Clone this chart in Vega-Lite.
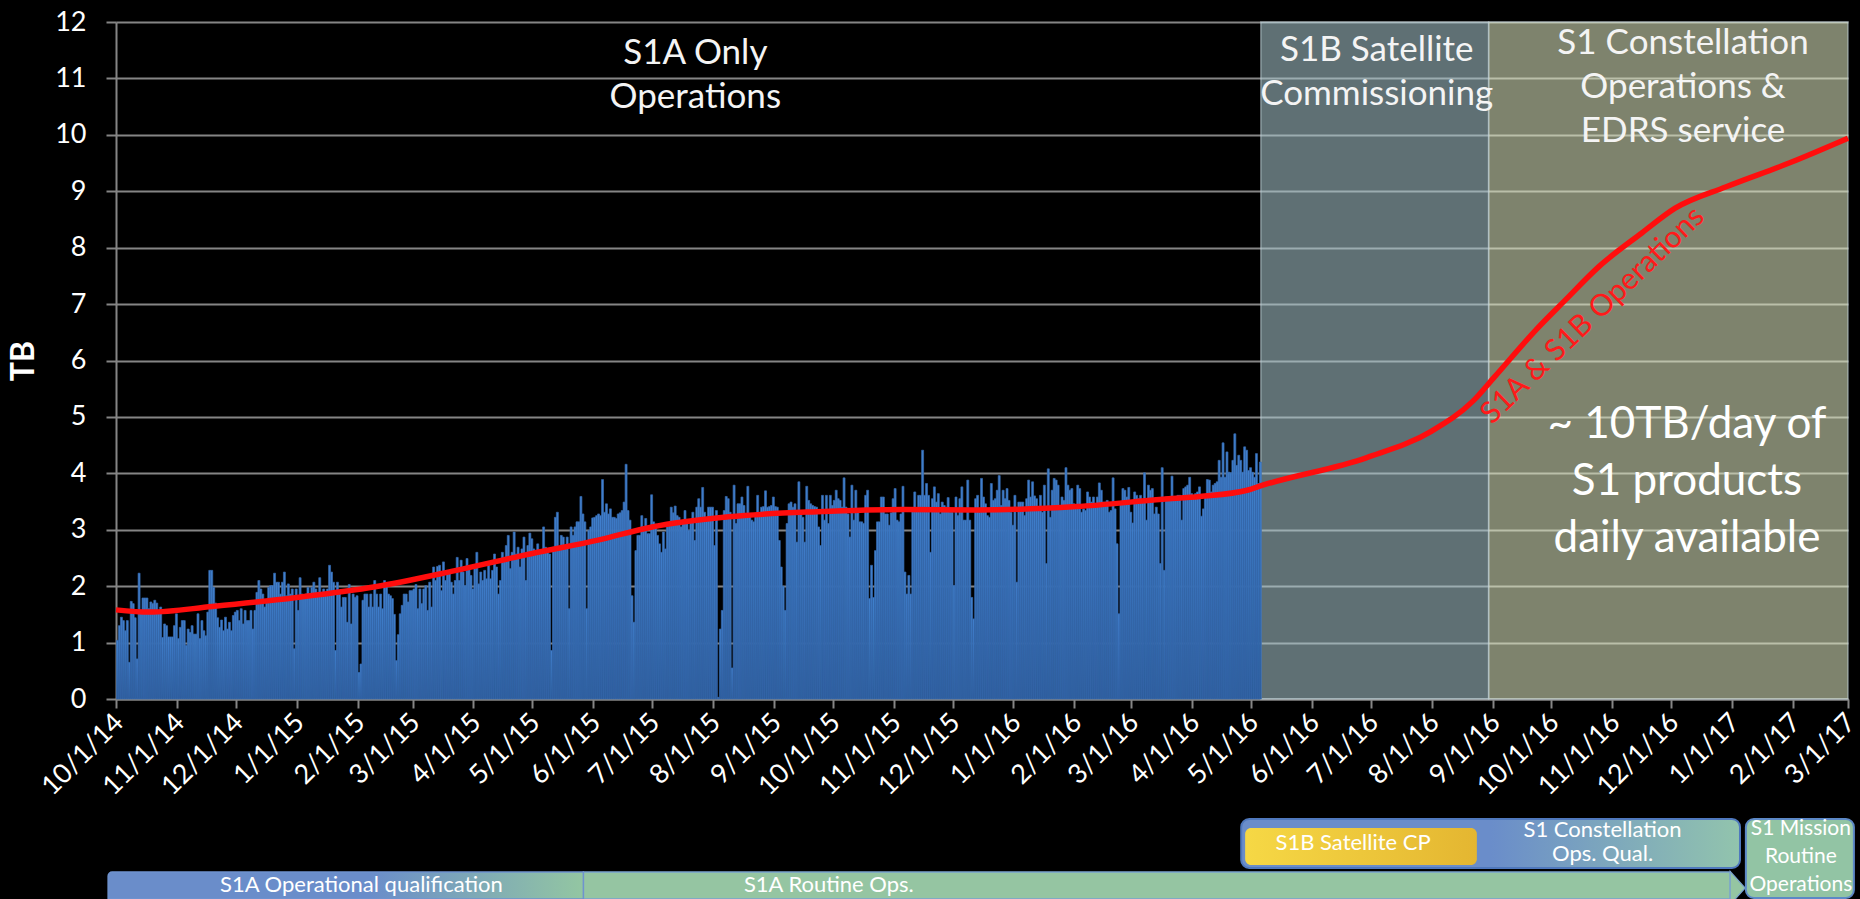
{
"$schema":"https://vega.github.io/schema/vega-lite/v6.json",
"background":"#000000",
"padding":{"left":7,"top":8,"right":0,"bottom":0},
"spacing":18,
"config":{"view":{"stroke":null},"font":"Lato"},
"datasets":{
"daily":[
{"d":"2014-10-01","v":1.04},{"d":"2014-10-02","v":1.3},{"d":"2014-10-03","v":1.45},{"d":"2014-10-04","v":1.39},{"d":"2014-10-05","v":1.21},{"d":"2014-10-06","v":1.39},{"d":"2014-10-07","v":0.65},{"d":"2014-10-08","v":1.73},{"d":"2014-10-09","v":1.69},{"d":"2014-10-10","v":1.44},{"d":"2014-10-11","v":0.71},{"d":"2014-10-12","v":2.23},{"d":"2014-10-13","v":1.51},{"d":"2014-10-14","v":1.79},{"d":"2014-10-15","v":1.79},{"d":"2014-10-16","v":1.79},{"d":"2014-10-17","v":1.6},{"d":"2014-10-18","v":1.72},{"d":"2014-10-19","v":1.69},{"d":"2014-10-20","v":1.75},{"d":"2014-10-21","v":1.7},{"d":"2014-10-22","v":1.51},{"d":"2014-10-23","v":1.63},{"d":"2014-10-24","v":1.09},{"d":"2014-10-25","v":1.33},{"d":"2014-10-26","v":1.3},{"d":"2014-10-27","v":1.1},{"d":"2014-10-28","v":1.1},{"d":"2014-10-29","v":1.1},{"d":"2014-10-30","v":1.3},{"d":"2014-10-31","v":1.51},
{"d":"2014-11-01","v":1.07},{"d":"2014-11-02","v":1.27},{"d":"2014-11-03","v":1.39},{"d":"2014-11-04","v":1.39},{"d":"2014-11-05","v":0.95},{"d":"2014-11-06","v":1.24},{"d":"2014-11-07","v":1.18},{"d":"2014-11-08","v":1.3},{"d":"2014-11-09","v":1.15},{"d":"2014-11-10","v":1.15},{"d":"2014-11-11","v":1.51},{"d":"2014-11-12","v":1.07},{"d":"2014-11-13","v":1.39},{"d":"2014-11-14","v":1.21},{"d":"2014-11-15","v":1.12},{"d":"2014-11-16","v":1.54},{"d":"2014-11-17","v":2.28},{"d":"2014-11-18","v":2.28},{"d":"2014-11-19","v":1.98},{"d":"2014-11-20","v":1.7},{"d":"2014-11-21","v":1.44},{"d":"2014-11-22","v":1.27},{"d":"2014-11-23","v":1.4},{"d":"2014-11-24","v":1.21},{"d":"2014-11-25","v":1.45},{"d":"2014-11-26","v":1.24},{"d":"2014-11-27","v":1.36},{"d":"2014-11-28","v":1.21},{"d":"2014-11-29","v":1.48},{"d":"2014-11-30","v":1.54},
{"d":"2014-12-01","v":1.57},{"d":"2014-12-02","v":1.39},{"d":"2014-12-03","v":1.6},{"d":"2014-12-04","v":1.33},{"d":"2014-12-05","v":1.57},{"d":"2014-12-06","v":1.39},{"d":"2014-12-07","v":1.39},{"d":"2014-12-08","v":1.57},{"d":"2014-12-09","v":1.24},{"d":"2014-12-10","v":1.57},{"d":"2014-12-11","v":1.89},{"d":"2014-12-12","v":2.1},{"d":"2014-12-13","v":1.95},{"d":"2014-12-14","v":1.86},{"d":"2014-12-15","v":1.63},{"d":"2014-12-16","v":1.75},{"d":"2014-12-17","v":1.98},{"d":"2014-12-18","v":2.01},{"d":"2014-12-19","v":2.01},{"d":"2014-12-20","v":2.23},{"d":"2014-12-21","v":2.07},{"d":"2014-12-22","v":2.07},{"d":"2014-12-23","v":1.86},{"d":"2014-12-24","v":2.07},{"d":"2014-12-25","v":2.25},{"d":"2014-12-26","v":1.83},{"d":"2014-12-27","v":2.04},{"d":"2014-12-28","v":1.86},{"d":"2014-12-29","v":1.95},{"d":"2014-12-30","v":0.89},{"d":"2014-12-31","v":1.95},
{"d":"2015-01-01","v":1.57},{"d":"2015-01-02","v":2.15},{"d":"2015-01-03","v":1.86},{"d":"2015-01-04","v":1.78},{"d":"2015-01-05","v":1.86},{"d":"2015-01-06","v":1.98},{"d":"2015-01-07","v":1.86},{"d":"2015-01-08","v":1.98},{"d":"2015-01-09","v":2.07},{"d":"2015-01-10","v":1.95},{"d":"2015-01-11","v":1.86},{"d":"2015-01-12","v":2.15},{"d":"2015-01-13","v":1.86},{"d":"2015-01-14","v":1.95},{"d":"2015-01-15","v":1.86},{"d":"2015-01-16","v":1.95},{"d":"2015-01-17","v":2.37},{"d":"2015-01-18","v":2.25},{"d":"2015-01-19","v":2.07},{"d":"2015-01-20","v":0.86},{"d":"2015-01-21","v":2.07},{"d":"2015-01-22","v":1.86},{"d":"2015-01-23","v":1.63},{"d":"2015-01-24","v":1.8},{"d":"2015-01-25","v":1.8},{"d":"2015-01-26","v":1.36},{"d":"2015-01-27","v":2.03},{"d":"2015-01-28","v":1.33},{"d":"2015-01-29","v":1.86},{"d":"2015-01-30","v":1.8},{"d":"2015-01-31","v":1.83},
{"d":"2015-02-01","v":0.47},{"d":"2015-02-02","v":0.62},{"d":"2015-02-03","v":1.75},{"d":"2015-02-04","v":1.86},{"d":"2015-02-05","v":1.86},{"d":"2015-02-06","v":1.63},{"d":"2015-02-07","v":1.86},{"d":"2015-02-08","v":1.63},{"d":"2015-02-09","v":2.1},{"d":"2015-02-10","v":1.86},{"d":"2015-02-11","v":1.63},{"d":"2015-02-12","v":1.86},{"d":"2015-02-13","v":1.6},{"d":"2015-02-14","v":2.1},{"d":"2015-02-15","v":2.04},{"d":"2015-02-16","v":1.86},{"d":"2015-02-17","v":1.83},{"d":"2015-02-18","v":1.78},{"d":"2015-02-19","v":1.5},{"d":"2015-02-20","v":0.68},{"d":"2015-02-21","v":1.14},{"d":"2015-02-22","v":1.51},{"d":"2015-02-23","v":1.66},{"d":"2015-02-24","v":1.86},{"d":"2015-02-25","v":1.86},{"d":"2015-02-26","v":1.72},{"d":"2015-02-27","v":1.92},{"d":"2015-02-28","v":1.92},
{"d":"2015-03-01","v":1.95},{"d":"2015-03-02","v":2.03},{"d":"2015-03-03","v":1.6},{"d":"2015-03-04","v":1.95},{"d":"2015-03-05","v":1.69},{"d":"2015-03-06","v":1.95},{"d":"2015-03-07","v":2.01},{"d":"2015-03-08","v":1.57},{"d":"2015-03-09","v":2.07},{"d":"2015-03-10","v":1.63},{"d":"2015-03-11","v":2.34},{"d":"2015-03-12","v":2.1},{"d":"2015-03-13","v":2.35},{"d":"2015-03-14","v":2.37},{"d":"2015-03-15","v":1.92},{"d":"2015-03-16","v":2.43},{"d":"2015-03-17","v":2.1},{"d":"2015-03-18","v":2.28},{"d":"2015-03-19","v":2.25},{"d":"2015-03-20","v":2.07},{"d":"2015-03-21","v":1.86},{"d":"2015-03-22","v":2.1},{"d":"2015-03-23","v":2.51},{"d":"2015-03-24","v":2.1},{"d":"2015-03-25","v":2.46},{"d":"2015-03-26","v":2.25},{"d":"2015-03-27","v":2.01},{"d":"2015-03-28","v":2.49},{"d":"2015-03-29","v":2.31},{"d":"2015-03-30","v":2.19},{"d":"2015-03-31","v":1.95},
{"d":"2015-04-01","v":2.34},{"d":"2015-04-02","v":2.6},{"d":"2015-04-03","v":2.04},{"d":"2015-04-04","v":2.25},{"d":"2015-04-05","v":2.1},{"d":"2015-04-06","v":2.28},{"d":"2015-04-07","v":2.13},{"d":"2015-04-08","v":2.43},{"d":"2015-04-09","v":2.13},{"d":"2015-04-10","v":2.28},{"d":"2015-04-11","v":2.57},{"d":"2015-04-12","v":2.34},{"d":"2015-04-13","v":1.86},{"d":"2015-04-14","v":2.1},{"d":"2015-04-15","v":2.6},{"d":"2015-04-16","v":2.51},{"d":"2015-04-17","v":2.72},{"d":"2015-04-18","v":2.9},{"d":"2015-04-19","v":2.31},{"d":"2015-04-20","v":2.6},{"d":"2015-04-21","v":2.96},{"d":"2015-04-22","v":2.57},{"d":"2015-04-23","v":2.69},{"d":"2015-04-24","v":2.34},{"d":"2015-04-25","v":2.66},{"d":"2015-04-26","v":2.87},{"d":"2015-04-27","v":2.1},{"d":"2015-04-28","v":2.72},{"d":"2015-04-29","v":2.94},{"d":"2015-04-30","v":2.84},
{"d":"2015-05-01","v":2.66},{"d":"2015-05-02","v":2.57},{"d":"2015-05-03","v":2.75},{"d":"2015-05-04","v":2.6},{"d":"2015-05-05","v":2.6},{"d":"2015-05-06","v":3.05},{"d":"2015-05-07","v":2.69},{"d":"2015-05-08","v":2.66},{"d":"2015-05-09","v":2.57},{"d":"2015-05-10","v":0.86},{"d":"2015-05-11","v":2.69},{"d":"2015-05-12","v":3.22},{"d":"2015-05-13","v":3.31},{"d":"2015-05-14","v":2.66},{"d":"2015-05-15","v":2.9},{"d":"2015-05-16","v":2.87},{"d":"2015-05-17","v":2.69},{"d":"2015-05-18","v":2.87},{"d":"2015-05-19","v":1.6},{"d":"2015-05-20","v":3.05},{"d":"2015-05-21","v":2.9},{"d":"2015-05-22","v":3.05},{"d":"2015-05-23","v":3.14},{"d":"2015-05-24","v":3.14},{"d":"2015-05-25","v":3.59},{"d":"2015-05-26","v":3.28},{"d":"2015-05-27","v":3.14},{"d":"2015-05-28","v":1.6},{"d":"2015-05-29","v":2.99},{"d":"2015-05-30","v":3.05},{"d":"2015-05-31","v":3.21},
{"d":"2015-06-01","v":3.22},{"d":"2015-06-02","v":3.25},{"d":"2015-06-03","v":3.28},{"d":"2015-06-04","v":3.25},{"d":"2015-06-05","v":3.89},{"d":"2015-06-06","v":3.31},{"d":"2015-06-07","v":3.46},{"d":"2015-06-08","v":3.28},{"d":"2015-06-09","v":3.37},{"d":"2015-06-10","v":3.22},{"d":"2015-06-11","v":3.22},{"d":"2015-06-12","v":3.2},{"d":"2015-06-13","v":3.28},{"d":"2015-06-14","v":3.3},{"d":"2015-06-15","v":3.34},{"d":"2015-06-16","v":3.49},{"d":"2015-06-17","v":4.16},{"d":"2015-06-18","v":3.34},{"d":"2015-06-19","v":3.17},{"d":"2015-06-20","v":1.83},{"d":"2015-06-21","v":1.36},{"d":"2015-06-22","v":2.63},{"d":"2015-06-23","v":2.9},{"d":"2015-06-24","v":2.9},{"d":"2015-06-25","v":3.25},{"d":"2015-06-26","v":3.05},{"d":"2015-06-27","v":3.2},{"d":"2015-06-28","v":2.93},{"d":"2015-06-29","v":2.93},{"d":"2015-06-30","v":3.62},
{"d":"2015-07-01","v":3.14},{"d":"2015-07-02","v":3.1},{"d":"2015-07-03","v":2.9},{"d":"2015-07-04","v":2.75},{"d":"2015-07-05","v":2.6},{"d":"2015-07-06","v":2.96},{"d":"2015-07-07","v":2.66},{"d":"2015-07-08","v":3.05},{"d":"2015-07-09","v":3.08},{"d":"2015-07-10","v":3.4},{"d":"2015-07-11","v":3.3},{"d":"2015-07-12","v":3.42},{"d":"2015-07-13","v":3.25},{"d":"2015-07-14","v":3.22},{"d":"2015-07-15","v":3.05},{"d":"2015-07-16","v":3.17},{"d":"2015-07-17","v":3.34},{"d":"2015-07-18","v":3.11},{"d":"2015-07-19","v":2.99},{"d":"2015-07-20","v":3.17},{"d":"2015-07-21","v":3.31},{"d":"2015-07-22","v":2.81},{"d":"2015-07-23","v":3.4},{"d":"2015-07-24","v":3.55},{"d":"2015-07-25","v":3.4},{"d":"2015-07-26","v":3.75},{"d":"2015-07-27","v":3.31},{"d":"2015-07-28","v":3.22},{"d":"2015-07-29","v":3.4},{"d":"2015-07-30","v":3.4},{"d":"2015-07-31","v":3.4},
{"d":"2015-08-01","v":2.72},{"d":"2015-08-02","v":3.34},{"d":"2015-08-03","v":0.03},{"d":"2015-08-04","v":1.24},{"d":"2015-08-05","v":1.57},{"d":"2015-08-06","v":3.34},{"d":"2015-08-07","v":3.59},{"d":"2015-08-08","v":3.55},{"d":"2015-08-09","v":3.31},{"d":"2015-08-10","v":0.55},{"d":"2015-08-11","v":3.79},{"d":"2015-08-12","v":3.11},{"d":"2015-08-13","v":3.46},{"d":"2015-08-14","v":3.46},{"d":"2015-08-15","v":3.58},{"d":"2015-08-16","v":3.43},{"d":"2015-08-17","v":3.28},{"d":"2015-08-18","v":3.77},{"d":"2015-08-19","v":3.28},{"d":"2015-08-20","v":3.17},{"d":"2015-08-21","v":3.14},{"d":"2015-08-22","v":3.25},{"d":"2015-08-23","v":3.61},{"d":"2015-08-24","v":3.3},{"d":"2015-08-25","v":3.4},{"d":"2015-08-26","v":3.41},{"d":"2015-08-27","v":3.69},{"d":"2015-08-28","v":3.4},{"d":"2015-08-29","v":3.41},{"d":"2015-08-30","v":3.43},{"d":"2015-08-31","v":3.58},
{"d":"2015-09-01","v":3.41},{"d":"2015-09-02","v":3.4},{"d":"2015-09-03","v":2.81},{"d":"2015-09-04","v":2.34},{"d":"2015-09-05","v":2.0},{"d":"2015-09-06","v":1.57},{"d":"2015-09-07","v":3.11},{"d":"2015-09-08","v":3.46},{"d":"2015-09-09","v":3.49},{"d":"2015-09-10","v":3.4},{"d":"2015-09-11","v":3.46},{"d":"2015-09-12","v":2.78},{"d":"2015-09-13","v":3.85},{"d":"2015-09-14","v":3.34},{"d":"2015-09-15","v":3.22},{"d":"2015-09-16","v":2.78},{"d":"2015-09-17","v":3.77},{"d":"2015-09-18","v":3.52},{"d":"2015-09-19","v":3.46},{"d":"2015-09-20","v":3.43},{"d":"2015-09-21","v":3.41},{"d":"2015-09-22","v":3.4},{"d":"2015-09-23","v":3.05},{"d":"2015-09-24","v":2.72},{"d":"2015-09-25","v":3.61},{"d":"2015-09-26","v":3.17},{"d":"2015-09-27","v":3.61},{"d":"2015-09-28","v":3.11},{"d":"2015-09-29","v":3.61},{"d":"2015-09-30","v":3.43},
{"d":"2015-10-01","v":3.52},{"d":"2015-10-02","v":3.7},{"d":"2015-10-03","v":3.55},{"d":"2015-10-04","v":3.52},{"d":"2015-10-05","v":3.4},{"d":"2015-10-06","v":3.92},{"d":"2015-10-07","v":3.4},{"d":"2015-10-08","v":3.28},{"d":"2015-10-09","v":2.87},{"d":"2015-10-10","v":3.79},{"d":"2015-10-11","v":3.17},{"d":"2015-10-12","v":3.7},{"d":"2015-10-13","v":3.34},{"d":"2015-10-14","v":3.14},{"d":"2015-10-15","v":3.14},{"d":"2015-10-16","v":3.11},{"d":"2015-10-17","v":3.61},{"d":"2015-10-18","v":3.7},{"d":"2015-10-19","v":1.78},{"d":"2015-10-20","v":2.37},{"d":"2015-10-21","v":1.8},{"d":"2015-10-22","v":2.63},{"d":"2015-10-23","v":3.14},{"d":"2015-10-24","v":3.14},{"d":"2015-10-25","v":3.58},{"d":"2015-10-26","v":3.58},{"d":"2015-10-27","v":3.28},{"d":"2015-10-28","v":3.28},{"d":"2015-10-29","v":3.08},{"d":"2015-10-30","v":3.3},{"d":"2015-10-31","v":3.55},
{"d":"2015-11-01","v":3.73},{"d":"2015-11-02","v":3.17},{"d":"2015-11-03","v":3.14},{"d":"2015-11-04","v":3.28},{"d":"2015-11-05","v":3.77},{"d":"2015-11-06","v":2.25},{"d":"2015-11-07","v":1.86},{"d":"2015-11-08","v":2.19},{"d":"2015-11-09","v":1.86},{"d":"2015-11-10","v":3.34},{"d":"2015-11-11","v":3.67},{"d":"2015-11-12","v":3.37},{"d":"2015-11-13","v":3.61},{"d":"2015-11-14","v":3.61},{"d":"2015-11-15","v":4.41},{"d":"2015-11-16","v":3.61},{"d":"2015-11-17","v":3.82},{"d":"2015-11-18","v":3.61},{"d":"2015-11-19","v":2.6},{"d":"2015-11-20","v":3.55},{"d":"2015-11-21","v":3.76},{"d":"2015-11-22","v":3.49},{"d":"2015-11-23","v":3.64},{"d":"2015-11-24","v":3.28},{"d":"2015-11-25","v":3.49},{"d":"2015-11-26","v":3.43},{"d":"2015-11-27","v":3.4},{"d":"2015-11-28","v":3.57},{"d":"2015-11-29","v":3.31},{"d":"2015-11-30","v":3.31},
{"d":"2015-12-01","v":2.01},{"d":"2015-12-02","v":3.58},{"d":"2015-12-03","v":3.25},{"d":"2015-12-04","v":3.55},{"d":"2015-12-05","v":3.76},{"d":"2015-12-06","v":3.17},{"d":"2015-12-07","v":3.17},{"d":"2015-12-08","v":3.88},{"d":"2015-12-09","v":3.17},{"d":"2015-12-10","v":1.8},{"d":"2015-12-11","v":1.42},{"d":"2015-12-12","v":3.55},{"d":"2015-12-13","v":3.61},{"d":"2015-12-14","v":3.31},{"d":"2015-12-15","v":3.91},{"d":"2015-12-16","v":3.58},{"d":"2015-12-17","v":3.46},{"d":"2015-12-18","v":3.25},{"d":"2015-12-19","v":3.22},{"d":"2015-12-20","v":3.82},{"d":"2015-12-21","v":3.52},{"d":"2015-12-22","v":3.55},{"d":"2015-12-23","v":3.7},{"d":"2015-12-24","v":3.96},{"d":"2015-12-25","v":3.43},{"d":"2015-12-26","v":3.7},{"d":"2015-12-27","v":3.55},{"d":"2015-12-28","v":3.73},{"d":"2015-12-29","v":3.52},{"d":"2015-12-30","v":3.31},{"d":"2015-12-31","v":3.08},
{"d":"2016-01-01","v":3.61},{"d":"2016-01-02","v":2.07},{"d":"2016-01-03","v":3.49},{"d":"2016-01-04","v":3.49},{"d":"2016-01-05","v":3.49},{"d":"2016-01-06","v":3.25},{"d":"2016-01-07","v":3.55},{"d":"2016-01-08","v":3.88},{"d":"2016-01-09","v":3.58},{"d":"2016-01-10","v":3.85},{"d":"2016-01-11","v":3.6},{"d":"2016-01-12","v":3.55},{"d":"2016-01-13","v":3.4},{"d":"2016-01-14","v":3.61},{"d":"2016-01-15","v":3.31},{"d":"2016-01-16","v":3.79},{"d":"2016-01-17","v":2.4},{"d":"2016-01-18","v":4.08},{"d":"2016-01-19","v":3.22},{"d":"2016-01-20","v":3.7},{"d":"2016-01-21","v":3.91},{"d":"2016-01-22","v":3.88},{"d":"2016-01-23","v":3.79},{"d":"2016-01-24","v":3.43},{"d":"2016-01-25","v":3.58},{"d":"2016-01-26","v":3.52},{"d":"2016-01-27","v":4.1},{"d":"2016-01-28","v":3.79},{"d":"2016-01-29","v":3.7},{"d":"2016-01-30","v":3.73},{"d":"2016-01-31","v":3.46},
{"d":"2016-02-01","v":3.43},{"d":"2016-02-02","v":3.79},{"d":"2016-02-03","v":3.73},{"d":"2016-02-04","v":3.31},{"d":"2016-02-05","v":3.37},{"d":"2016-02-06","v":3.34},{"d":"2016-02-07","v":3.67},{"d":"2016-02-08","v":3.58},{"d":"2016-02-09","v":3.49},{"d":"2016-02-10","v":3.58},{"d":"2016-02-11","v":3.4},{"d":"2016-02-12","v":3.58},{"d":"2016-02-13","v":3.83},{"d":"2016-02-14","v":3.7},{"d":"2016-02-15","v":3.49},{"d":"2016-02-16","v":3.49},{"d":"2016-02-17","v":3.52},{"d":"2016-02-18","v":3.31},{"d":"2016-02-19","v":3.34},{"d":"2016-02-20","v":3.92},{"d":"2016-02-21","v":3.37},{"d":"2016-02-22","v":2.75},{"d":"2016-02-23","v":1.51},{"d":"2016-02-24","v":3.49},{"d":"2016-02-25","v":3.73},{"d":"2016-02-26","v":3.7},{"d":"2016-02-27","v":3.58},{"d":"2016-02-28","v":3.75},{"d":"2016-02-29","v":3.31},
{"d":"2016-03-01","v":3.12},{"d":"2016-03-02","v":3.67},{"d":"2016-03-03","v":3.61},{"d":"2016-03-04","v":3.55},{"d":"2016-03-05","v":3.61},{"d":"2016-03-06","v":3.5},{"d":"2016-03-07","v":4.01},{"d":"2016-03-08","v":3.17},{"d":"2016-03-09","v":3.79},{"d":"2016-03-10","v":3.7},{"d":"2016-03-11","v":3.73},{"d":"2016-03-12","v":3.28},{"d":"2016-03-13","v":3.4},{"d":"2016-03-14","v":3.28},{"d":"2016-03-15","v":2.4},{"d":"2016-03-16","v":4.1},{"d":"2016-03-17","v":2.28},{"d":"2016-03-18","v":3.58},{"d":"2016-03-19","v":3.58},{"d":"2016-03-20","v":3.58},{"d":"2016-03-21","v":3.95},{"d":"2016-03-22","v":3.58},{"d":"2016-03-23","v":3.58},{"d":"2016-03-24","v":3.61},{"d":"2016-03-25","v":3.61},{"d":"2016-03-26","v":3.17},{"d":"2016-03-27","v":3.73},{"d":"2016-03-28","v":3.76},{"d":"2016-03-29","v":3.79},{"d":"2016-03-30","v":3.93},{"d":"2016-03-31","v":3.64},
{"d":"2016-04-01","v":3.61},{"d":"2016-04-02","v":3.64},{"d":"2016-04-03","v":3.67},{"d":"2016-04-04","v":3.76},{"d":"2016-04-05","v":3.24},{"d":"2016-04-06","v":3.37},{"d":"2016-04-07","v":3.61},{"d":"2016-04-08","v":3.89},{"d":"2016-04-09","v":3.88},{"d":"2016-04-10","v":3.67},{"d":"2016-04-11","v":3.79},{"d":"2016-04-12","v":3.82},{"d":"2016-04-13","v":3.85},{"d":"2016-04-14","v":4.23},{"d":"2016-04-15","v":3.93},{"d":"2016-04-16","v":4.54},{"d":"2016-04-17","v":3.93},{"d":"2016-04-18","v":4.38},{"d":"2016-04-19","v":4.02},{"d":"2016-04-20","v":4.01},{"d":"2016-04-21","v":4.23},{"d":"2016-04-22","v":4.7},{"d":"2016-04-23","v":4.14},{"d":"2016-04-24","v":4.32},{"d":"2016-04-25","v":4.23},{"d":"2016-04-26","v":4.02},{"d":"2016-04-27","v":4.47},{"d":"2016-04-28","v":4.41},{"d":"2016-04-29","v":4.05},{"d":"2016-04-30","v":4.1},
{"d":"2016-05-01","v":4.02},{"d":"2016-05-02","v":3.93},{"d":"2016-05-03","v":4.35},{"d":"2016-05-04","v":3.82},{"d":"2016-05-05","v":4.2}
],
"trend":[
{"d":"2014-10-01","v":1.58},{"d":"2014-10-18","v":1.54},{"d":"2014-11-19","v":1.64},{"d":"2015-01-01","v":1.8},{"d":"2015-02-10","v":1.99},{"d":"2015-03-22","v":2.27},{"d":"2015-05-01","v":2.58},{"d":"2015-06-04","v":2.82},{"d":"2015-07-01","v":3.05},{"d":"2015-08-09","v":3.23},{"d":"2015-09-23","v":3.32},{"d":"2015-11-06","v":3.36},{"d":"2015-12-13","v":3.35},{"d":"2016-02-02","v":3.41},{"d":"2016-03-17","v":3.54},{"d":"2016-04-05","v":3.59},{"d":"2016-04-29","v":3.7},{"d":"2016-05-07","v":3.79},{"d":"2016-06-29","v":4.28},{"d":"2016-08-01","v":4.75},{"d":"2016-08-22","v":5.28},{"d":"2016-09-02","v":5.71},{"d":"2016-09-23","v":6.54},{"d":"2016-10-08","v":7.07},{"d":"2016-10-25","v":7.66},{"d":"2016-11-16","v":8.26},{"d":"2016-12-03","v":8.7},{"d":"2016-12-29","v":9.08},{"d":"2017-01-30","v":9.5},{"d":"2017-03-01","v":9.94}
],
"phases":[
{"phase":"S1B Satellite Commissioning","start":"2016-05-06","end":"2016-08-30"},
{"phase":"S1 Constellation Operations","start":"2016-08-30","end":"2017-03-01"}
],
"labels":[
{"d":"2015-07-23","v":11.45,"t":"S1A Only\nOperations"},
{"d":"2016-07-04","v":11.5,"t":"S1B Satellite\nCommissioning"},
{"d":"2016-12-07","v":11.63,"t":"S1 Constellation\nOperations &\nEDRS service"}
],
"note":[{"d":"2016-12-09","v":4.86,"t":"~ 10TB/day of\nS1 products\ndaily available"}],
"curveLabel":[{"d":"2016-10-22","v":6.8,"t":"S1A & S1B Operations"}],
"gantt":[
{"id":"opq","task":"S1A Operational qualification","start":"2014-09-27","end":"2015-05-27","mid":"2015-02-03"},
{"id":"routine","task":"S1A Routine Ops.","start":"2015-05-27","end":"2016-12-31","mid":"2015-09-29"},
{"id":"cqual","task":"S1 Constellation\nOps. Qual.","start":"2016-04-26","end":"2017-01-05","mid":"2016-10-27"},
{"id":"cp","task":"S1B Satellite CP","start":"2016-04-28","end":"2016-08-24","mid":"2016-06-22"},
{"id":"mission","task":"S1 Mission\nRoutine\nOperations","start":"2017-01-08","end":"2017-03-04","mid":"2017-02-05"}
]
},
"vconcat":[
{
"width":1732,"height":677,
"layer":[
{
"data":{"name":"phases"},
"mark":{"type":"rect","fillOpacity":0.55,"stroke":"#c4d6dc","strokeWidth":1.5,"strokeOpacity":0.55},
"encoding":{
"x":{"field":"start","type":"temporal"},
"x2":{"field":"end"},
"y":{"datum":0},"y2":{"datum":12},
"color":{"field":"phase","type":"nominal","scale":{"domain":["S1B Satellite Commissioning","S1 Constellation Operations"],"range":["#adccd3","#e5eec6"]},"legend":null}
}
},
{
"data":{"name":"daily"},
"mark":{"type":"bar","binSpacing":0,"strokeWidth":0.7,"stroke":"#3569ad","color":{"gradient":"linear","x1":0,"y1":0,"x2":0,"y2":1,"stops":[{"offset":0,"color":"#4282d0"},{"offset":1,"color":"#2e5d9c"}]}},
"encoding":{
"x":{"field":"d","type":"temporal","timeUnit":"utcyearmonthdate",
"scale":{"type":"utc","domain":[{"year":2014,"month":10,"date":1,"utc":true},{"year":2017,"month":3,"date":1,"utc":true}]},
"axis":{"title":null,"grid":false,"tickCount":{"interval":"month","step":1},"format":"%-m/%-d/%y","labelAngle":-45,"labelAlign":"right","labelBaseline":"middle","labelColor":"#ffffff","labelFontSize":27,"labelFont":"Lato","labelPadding":10,"labelOffset":3,"labelOverlap":false,"labelFlush":false,"labelBound":false,"tickSize":9,"tickColor":"#858585","tickWidth":2,"domainColor":"#858585","domainWidth":2}},
"y":{"field":"v","type":"quantitative","scale":{"domain":[0,12],"nice":false},
"axis":{"title":"TB","titleColor":"#ffffff","titleFontSize":32,"titleFontWeight":"bold","titleFont":"Lato","titlePadding":14,"values":[0,1,2,3,4,5,6,7,8,9,10,11,12],"format":"d","grid":true,"gridColor":"#858585","gridWidth":2,"domainColor":"#858585","domainWidth":2,"tickColor":"#858585","tickWidth":2,"tickSize":10,"labelColor":"#ffffff","labelFontSize":27,"labelFont":"Lato","labelPadding":20}}
}
},
{
"data":{"name":"trend"},
"mark":{"type":"line","color":"#ff0d0d","strokeWidth":5.5,"interpolate":"monotone"},
"encoding":{"x":{"field":"d","type":"temporal"},"y":{"field":"v","type":"quantitative"}}
},
{
"data":{"name":"labels"},
"mark":{"type":"text","color":"#f4f4f4","fontSize":35,"font":"Lato","lineBreak":"\n","lineHeight":44,"align":"center","baseline":"middle"},
"encoding":{"x":{"field":"d","type":"temporal"},"y":{"field":"v","type":"quantitative"},"text":{"field":"t"}}
},
{
"data":{"name":"note"},
"mark":{"type":"text","color":"#ffffff","fontSize":44,"font":"Lato","lineBreak":"\n","lineHeight":57,"align":"center","baseline":"middle"},
"encoding":{"x":{"field":"d","type":"temporal"},"y":{"field":"v","type":"quantitative"},"text":{"field":"t"}}
},
{
"data":{"name":"curveLabel"},
"mark":{"type":"text","color":"#ff1a1a","fontSize":30,"font":"Lato","angle":-44,"align":"center","baseline":"middle"},
"encoding":{"x":{"field":"d","type":"temporal"},"y":{"field":"v","type":"quantitative"},"text":{"field":"t"}}
}
]
},
{
"width":1732,"height":80,
"data":{"name":"gantt"},
"layer":[
{
"transform":[{"filter":{"field":"id","equal":"routine"}}],
"mark":{"type":"rect","fill":"#95c5a2","stroke":"#7aa3cf","strokeWidth":1.5},
"encoding":{
"x":{"field":"start","type":"temporal","scale":{"type":"utc","domain":[{"year":2014,"month":10,"date":1,"utc":true},{"year":2017,"month":3,"date":1,"utc":true}]},"axis":null},
"x2":{"field":"end"},
"y":{"datum":53,"type":"quantitative","scale":{"domain":[0,80],"reverse":true},"axis":null},"y2":{"datum":80}
}
},
{
"transform":[{"filter":{"field":"id","equal":"routine"}}],
"mark":{"type":"point","shape":"M0,-1L0.9,0L0,1Z","size":1100,"filled":true,"opacity":1,"fill":"#95c5a2","stroke":"#7aa3cf","strokeWidth":1.2},
"encoding":{"x":{"field":"end","type":"temporal"},"y":{"datum":69,"type":"quantitative"}}
},
{
"transform":[{"filter":{"field":"id","equal":"opq"}}],
"mark":{"type":"rect","stroke":"#6f93cf","strokeWidth":1.5,"cornerRadiusTopLeft":4,"fill":{"gradient":"linear","x1":0,"y1":0,"x2":1,"y2":0,"stops":[{"offset":0,"color":"#6a8dca"},{"offset":0.55,"color":"#6a8dca"},{"offset":1,"color":"#93c6a2"}]}},
"encoding":{"x":{"field":"start","type":"temporal"},"x2":{"field":"end"},"y":{"datum":53,"type":"quantitative"},"y2":{"datum":80}}
},
{
"transform":[{"filter":{"field":"id","equal":"cqual"}}],
"mark":{"type":"rect","stroke":"#4f78bd","strokeWidth":2,"cornerRadius":8,"fill":{"gradient":"linear","x1":0,"y1":0,"x2":1,"y2":0,"stops":[{"offset":0,"color":"#6a8dca"},{"offset":0.5,"color":"#6a8dca"},{"offset":1,"color":"#92c4ad"}]}},
"encoding":{"x":{"field":"start","type":"temporal"},"x2":{"field":"end"},"y":{"datum":0,"type":"quantitative"},"y2":{"datum":49}}
},
{
"transform":[{"filter":{"field":"id","equal":"cp"}}],
"mark":{"type":"rect","cornerRadius":6,"fill":{"gradient":"linear","x1":0,"y1":0,"x2":1,"y2":0,"stops":[{"offset":0,"color":"#f6d845"},{"offset":1,"color":"#e4b631"}]}},
"encoding":{"x":{"field":"start","type":"temporal"},"x2":{"field":"end"},"y":{"datum":9,"type":"quantitative"},"y2":{"datum":46}}
},
{
"transform":[{"filter":{"field":"id","equal":"mission"}}],
"mark":{"type":"rect","fill":"#92c4a4","stroke":"#5c88c6","strokeWidth":2,"cornerRadius":8},
"encoding":{"x":{"field":"start","type":"temporal"},"x2":{"field":"end"},"y":{"datum":0,"type":"quantitative"},"y2":{"datum":79}}
},
{
"transform":[{"filter":{"field":"id","equal":"cp"}}],
"mark":{"type":"text","color":"#ffffff","fontSize":22,"font":"Lato","align":"center","baseline":"middle"},
"encoding":{"x":{"field":"mid","type":"temporal"},"y":{"datum":24,"type":"quantitative"},"text":{"field":"task"}}
},
{
"transform":[{"filter":{"field":"id","equal":"cqual"}}],
"mark":{"type":"text","color":"#ffffff","fontSize":22,"font":"Lato","lineBreak":"\n","lineHeight":24,"align":"center","baseline":"middle"},
"encoding":{"x":{"field":"mid","type":"temporal"},"y":{"datum":11,"type":"quantitative"},"text":{"field":"task"}}
},
{
"transform":[{"filter":{"field":"id","oneOf":["opq","routine"]}}],
"mark":{"type":"text","color":"#ffffff","fontSize":22,"font":"Lato","align":"center","baseline":"middle"},
"encoding":{"x":{"field":"mid","type":"temporal"},"y":{"datum":66,"type":"quantitative"},"text":{"field":"task"}}
},
{
"transform":[{"filter":{"field":"id","equal":"mission"}}],
"mark":{"type":"text","color":"#ffffff","fontSize":21,"font":"Lato","lineBreak":"\n","lineHeight":28,"align":"center","baseline":"middle"},
"encoding":{"x":{"field":"mid","type":"temporal"},"y":{"datum":10,"type":"quantitative"},"text":{"field":"task"}}
}
]
}
]
}
